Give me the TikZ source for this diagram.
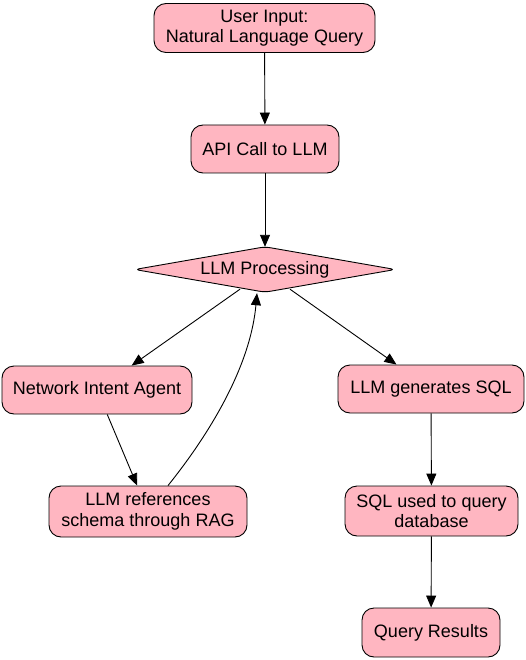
\documentclass[tikz,border=0pt]{standalone}
\usepackage{fontspec}
\setmainfont{Liberation Sans}
\usetikzlibrary{shapes.geometric,arrows.meta,calc}
\begin{document}
\begin{tikzpicture}[x=1pt,y=-1pt,
  box/.style={draw=black, fill=pinkfill, rounded corners=12pt, line width=0.9pt,
    inner sep=0pt, align=center, font=\fontsize{18}{20.5}\selectfont},
  dia/.style={inner sep=0pt, font=\fontsize{18}{20.5}\selectfont},
  diashape/.style={draw=black, fill=pinkfill, rounded corners=5pt, line width=0.9pt},
  arr/.style={-{Triangle[length=12pt,width=10pt]}, line width=0.9pt}]
\definecolor{pinkfill}{HTML}{FFB6C1}
\useasboundingbox (0,0) rectangle (526,660);
\node[box, minimum width=221pt, minimum height=49pt] (ui) at (264.5,28) {User Input:\\Natural Language Query};
\node[box, minimum width=148pt, minimum height=48pt] (api) at (265,149) {API Call to LLM};
\node[dia, minimum width=260pt, minimum height=45pt] (proc) at (265,269.5) {};
\draw[diashape] (proc.west) -- (proc.north) -- (proc.east) -- (proc.south) -- cycle;
\node[dia] (proclabel) at (proc.center) {LLM Processing};
\node[box, minimum width=190pt, minimum height=48pt] (net) at (97,390) {Network Intent Agent};
\node[box, minimum width=186pt, minimum height=48pt] (gen) at (431,389) {LLM generates SQL};
\node[box, minimum width=198pt, minimum height=51pt] (refs) at (148,511.5) {LLM references\\schema through RAG};
\node[box, minimum width=173pt, minimum height=50pt] (sql) at (431.5,511) {SQL used to query\\database};
\node[box, minimum width=138pt, minimum height=49pt] (res) at (431,632.5) {Query Results};
\draw[arr] (ui) -- (api);
\draw[arr] (api) -- (proc.north);
\draw[arr] ($(proc.south)+(-25,-3)$) -- (net);
\draw[arr] ($(proc.south)+(25,-3)$) -- (gen);
\draw[arr] (net) -- (refs);
\draw[arr] ($(refs.north)+(20,0)$) .. controls ($(refs.north)+(57,-46)$) and ($(proc.south)+(-15,78)$) .. ($(proc.south)+(-8,1)$);
\draw[arr] (gen) -- (sql);
\draw[arr] (sql) -- (res);
\end{tikzpicture}
\end{document}
